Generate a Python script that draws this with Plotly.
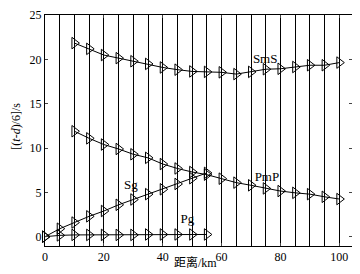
import plotly.graph_objects as go

# distances (km)
pg_x = [0, 5, 10, 15, 20, 25, 30, 35, 40, 45, 50, 55]
pg_y = [0, 0.15, 0.2, 0.2, 0.2, 0.2, 0.2, 0.25, 0.25, 0.25, 0.25, 0.25]

sg_x = [0, 5, 10, 15, 20, 25, 30, 35, 40, 45, 50, 55]
sg_y = [0, 0.9, 1.6, 2.3, 2.9, 3.6, 4.2, 4.8, 5.35, 5.95, 6.6, 7.2]

pmp_x = [10, 15, 20, 25, 30, 35, 40, 45, 50, 55, 60, 65, 70, 75, 80, 85, 90, 95, 100]
pmp_y = [11.9, 11.1, 10.4, 9.9, 9.3, 8.9, 8.2, 7.7, 7.3, 7.0, 6.55, 6.1, 5.8, 5.45,
         5.15, 4.95, 4.8, 4.5, 4.25]

sms_x = [10, 15, 20, 25, 30, 35, 40, 45, 50, 55, 60, 65, 70, 75, 80, 85, 90, 95, 100]
sms_y = [21.85, 21.2, 20.5, 20.15, 19.8, 19.5, 19.1, 18.85, 18.65, 18.6, 18.55, 18.35,
         18.6, 18.9, 18.95, 19.15, 19.35, 19.35, 19.65]

label_text = ["SmS", "PmP", "Sg", "Pg"]
label_x = [74.8, 75.4, 29.2, 48.4]
label_y = [20.0, 6.7, 5.7, 1.95]

x_ticks = [0, 20, 40, 60, 80, 100]
y_ticks = [0, 5, 10, 15, 20, 25]

serif = "Liberation Serif, Times New Roman, serif"

fig = go.Figure()
for xs, ys in [(pg_x, pg_y), (sg_x, sg_y), (pmp_x, pmp_y), (sms_x, sms_y)]:
    fig.add_trace(go.Scatter(
        x=xs, y=ys, mode="lines+markers",
        line=dict(color="black", width=1),
        marker=dict(symbol="triangle-right-open", size=10,
                    color="black", line=dict(color="black", width=1)),
        cliponaxis=False, showlegend=False, hoverinfo="skip"))

fig.add_trace(go.Scatter(
    x=label_x, y=label_y, mode="text", text=label_text,
    textfont=dict(family=serif, size=13, color="black"),
    showlegend=False, hoverinfo="skip"))

# page body has an 8px margin, so the figure is shrunk and margins shifted
fig.update_layout(
    width=352, height=266,
    margin=dict(l=37, r=8, t=7, b=28, autoexpand=False),
    paper_bgcolor="white", plot_bgcolor="white",
    font=dict(family=serif, size=12, color="black"),
    xaxis=dict(
        range=[0, 104.3], tickvals=x_ticks, ticks="inside", ticklen=3,
        showline=True, linecolor="black", linewidth=1, mirror="ticks",
        showgrid=True, gridcolor="black", gridwidth=1, zeroline=False,
        minor=dict(dtick=5, tick0=0, showgrid=True, gridcolor="black", gridwidth=1),
        automargin=False, tickfont=dict(size=12), ticklabeloverflow="allow",
    ),
    yaxis=dict(
        range=[-1.05, 25.02], tickvals=y_ticks, ticks="inside", ticklen=3,
        showline=True, linecolor="black", linewidth=1, mirror="ticks",
        showgrid=False, zeroline=False, automargin=False,
        tickfont=dict(size=12), ticklabeloverflow="allow",
    ),
    annotations=[
        dict(text="距离/km", xref="paper", yref="paper", x=0.489, y=-0.07,
             xanchor="center", yanchor="middle", showarrow=False,
             font=dict(family="Liberation Serif, Noto Sans CJK SC, serif", size=12)),
        dict(text="[(<i>t</i>-<i>d</i>)/6]/s", xref="paper", yref="paper",
             x=-0.095, y=0.52, xanchor="center", yanchor="middle", textangle=-90,
             showarrow=False, font=dict(family=serif, size=12)),
    ],
)

fig.write_html("out.html")
